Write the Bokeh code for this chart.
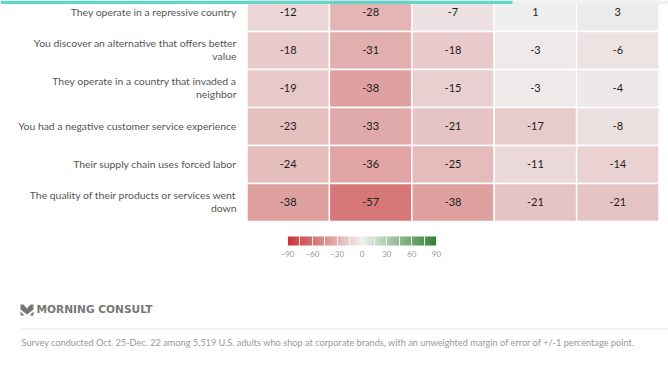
from bokeh.embed import file_html
from bokeh.resources import INLINE
from bokeh.plotting import figure
from bokeh.models import Range1d, ColumnDataSource, LinearColorMapper, ColorBar, FixedTicker
from bokeh.core.properties import value

questions = [
    "They operate in a repressive country",
    "You discover an alternative that offers better\nvalue",
    "They operate in a country that invaded a\nneighbor",
    "You had a negative customer service experience",
    "Their supply chain uses forced labor",
    "The quality of their products or services went\ndown",
]
col_a = [-12, -18, -19, -23, -24, -38]
col_b = [-28, -31, -38, -33, -36, -57]
col_c = [-7, -18, -15, -21, -25, -38]
col_d = [1, -3, -3, -17, -11, -21]
col_e = [3, -6, -4, -8, -14, -21]
columns = [col_a, col_b, col_c, col_d, col_e]
legend_ticks = [-90, -60, -30, 0, 30, 60, 90]
legend_minor = [-75, -45, -15, 15, 45, 75]
source_note = "Survey conducted Oct. 25-Dec. 22 among 5,519 U.S. adults who shop at corporate brands, with an unweighted margin of error of +/-1 percentage point."
brand = "MORNING CONSULT"

W, H = 668, 376
CW, CH = 82.4, 38.0
X0, Y0 = 287.7, 12.0
FONT = "Lato"

def px(x):
    return (x - X0) / CW

def py(y):
    return (y - Y0) / CH

def lerp(a, b, t):
    return "#%02x%02x%02x" % tuple(round(a[i] + (b[i] - a[i]) * t) for i in range(3))

RED, MID, GREEN = (200, 50, 50), (240, 240, 240), (50, 130, 50)
palette = [lerp(RED, MID, i / 90) for i in range(90)] + [lerp(MID, GREEN, i / 90) for i in range(91)]
mapper = LinearColorMapper(palette=palette, low=-90, high=90)

p = figure(width=W, height=H, output_backend="svg", toolbar_location=None,
           x_range=Range1d(px(0), px(W)), y_range=Range1d(py(H), py(0)),
           min_border=0, outline_line_color=None, background_fill_color="white")
p.xaxis.visible = False
p.yaxis.visible = False
p.grid.visible = False
p.styles = {"position": "absolute", "left": "0px", "top": "0px"}

xs, ys, vals, txt = [], [], [], []
for j, col in enumerate(columns):
    for i, v in enumerate(col):
        xs.append(j); ys.append(i); vals.append(v); txt.append(str(v))
src = ColumnDataSource(dict(x=xs, y=ys, v=vals, t=txt))
p.rect("x", "y", width=1, height=1, source=src,
       fill_color={"field": "v", "transform": mapper}, line_color="white", line_width=1.4)
p.text("x", "y", text="t", source=src, text_align="center", text_baseline="middle", y_offset=-1,
       text_font=value(FONT), text_font_size="11px", text_color="#1c1c1c")

p.text([px(236)] * 6, list(range(6)), text=questions, text_align="right", text_baseline="middle", y_offset=-1,
       text_font=value(FONT), text_font_size="10.4px", text_color="#555555", text_line_height=1.1)

# top progress bar
p.quad(left=[px(0)], right=[px(668)], top=[py(0)], bottom=[py(3.5)], fill_color="#f0f0f0", line_color=None)
p.quad(left=[px(0)], right=[px(512)], top=[py(0)], bottom=[py(3.5)], fill_color="#62d6cb", line_color=None)

# colour legend
cb = ColorBar(color_mapper=mapper, orientation="horizontal", width=149, height=9, location=(287, H - 259),
              ticker=FixedTicker(ticks=legend_ticks, minor_ticks=legend_minor),
              major_tick_line_color="#f4f4f4", major_tick_in=9, major_tick_out=0, major_tick_line_width=1,
              minor_tick_line_color="#f4f4f4", minor_tick_in=9, minor_tick_out=0, minor_tick_line_width=1,
              major_label_text_font=FONT, major_label_text_font_size="8px", major_label_text_color="#999999",
              label_standoff=5, background_fill_color=None, border_line_color=None, bar_line_color=None,
              padding=0, title=None)
p.add_layout(cb, "center")

# footer
p.patches([[px(v) for v in (20, 23, 26.5, 30, 33, 33, 26.5, 20)],
           [px(v) for v in (20, 24, 20)], [px(v) for v in (29, 33, 33)]],
          [[py(v) for v in (304, 304, 308, 304, 304, 309, 314, 309)],
           [py(v) for v in (311, 315, 315)], [py(v) for v in (315, 315, 311)]],
          fill_color="#777777", line_color=None)
p.text([px(36)], [py(308.5)], text=[brand], text_baseline="middle", text_font=value("DejaVu Sans"),
       text_font_size="10.6px", text_font_style="bold", text_color="#777777")
p.segment([px(21)], [py(328.5)], [px(668)], [py(328.5)], line_color="#e3e3e3", line_width=1)
p.text([px(21)], [py(341.5)], text=[source_note], text_baseline="middle", text_font=value(FONT),
       text_font_size="9.2px", text_color="#999999")

open("out.html", "w").write(file_html(p, INLINE))
